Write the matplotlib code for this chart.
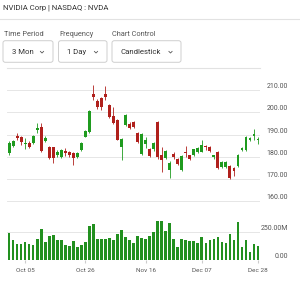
import matplotlib
matplotlib.use("Agg")
import matplotlib.pyplot as plt
import numpy as np
from matplotlib.patches import FancyBboxPatch
from matplotlib.lines import Line2D

plt.rcParams['font.family'] = ['Roboto', 'DejaVu Sans']

# daily candles, Sep 29 - Dec 26 (63 sessions)
opens = [181.7, 184.9, 189.4, 188.8, 185.9, 186.1, 186.1, 192.1, 193.5, 187.3,
         184.3, 184.3, 180.9, 180.0, 182.7, 182.3, 181.9, 179.8, 183.1, 189.1,
         191.0, 208.2, 205.0, 206.4, 208.4, 203.4, 198.4, 196.8, 184.6, 194.5,
         195.0, 195.5, 190.9, 181.2, 185.8, 183.3, 183.3, 195.9, 180.9, 179.4,
         174.2, 181.3, 178.9, 174.0, 182.0, 180.6, 180.9, 182.1, 182.3, 184.9,
         184.6, 180.1, 182.1, 175.2, 175.3, 175.9, 174.9, 176.0, 182.9, 183.2,
         187.7, 189.4, 187.4]
highs = [187.0, 187.8, 190.8, 189.5, 188.4, 187.0, 189.8, 195.1, 195.4, 189.5,
         185.0, 184.6, 183.0, 183.4, 183.8, 182.8, 182.2, 182.3, 186.5, 192.1,
         201.3, 212.4, 206.0, 206.9, 212.0, 203.8, 202.6, 197.2, 188.4, 199.4,
         195.6, 196.0, 191.4, 190.8, 189.0, 183.8, 186.6, 196.2, 184.6, 183.0,
         177.9, 182.2, 179.3, 181.0, 184.9, 181.0, 183.7, 184.4, 187.6, 185.3,
         185.0, 181.0, 182.5, 178.0, 178.0, 176.2, 175.6, 181.3, 184.4, 189.4,
         189.0, 192.4, 189.1]
lows = [181.0, 184.2, 187.6, 185.4, 183.4, 184.0, 185.8, 190.6, 182.0, 186.5,
        179.0, 177.1, 180.0, 179.6, 180.4, 179.8, 176.4, 179.5, 182.8, 188.8,
        190.6, 205.6, 201.5, 201.2, 205.8, 197.5, 194.6, 187.4, 178.6, 194.0,
        192.5, 193.0, 186.0, 180.6, 184.0, 179.8, 182.8, 179.0, 173.3, 179.0,
        170.5, 179.2, 176.4, 173.5, 179.9, 178.4, 180.5, 181.7, 182.0, 183.2,
        182.2, 178.8, 174.6, 174.8, 174.9, 170.2, 171.2, 175.6, 182.6, 182.8,
        187.3, 187.6, 185.6]
closes = [186.4, 187.2, 188.5, 186.7, 186.4, 184.6, 189.4, 193.2, 182.5, 188.4,
          179.6, 179.4, 182.0, 183.1, 181.9, 180.9, 179.4, 181.9, 186.1, 191.7,
          200.8, 207.0, 202.4, 202.3, 206.8, 198.1, 195.1, 187.8, 187.9, 199.0,
          193.0, 193.5, 186.5, 190.2, 187.4, 180.2, 186.1, 180.1, 178.6, 182.5,
          177.4, 179.8, 176.8, 180.5, 181.6, 178.8, 183.3, 184.0, 185.4, 184.2,
          182.6, 180.9, 175.0, 177.6, 177.6, 170.6, 173.4, 180.9, 183.8, 189.0,
          188.5, 190.4, 187.9]
volumes = [241, 177, 139, 139, 162, 141, 133, 186, 274, 156,
           209, 221, 180, 177, 133, 127, 168, 115, 133, 156,
           303, 316, 186, 186, 186, 194, 177, 227, 268, 203,
           177, 153, 212, 192, 186, 215, 250, 347, 347, 259,
           324, 186, 118, 186, 180, 168, 168, 148, 206, 148,
           177, 186, 200, 162, 148, 227, 180, 333, 118, 177,
           68, 139, 124]  # millions

tick_idx = [4, 19, 34, 48, 62]
tick_labels = ['Oct 05', 'Oct 26', 'Nov 16', 'Dec 07', 'Dec 28']
price_ticks = [160, 170, 180, 190, 200, 210]
vol_ticks = [0, 250]
vol_labels = ['0.00', '250.00M']

W, H = 300, 281
GREEN = '#1f9b1f'
RED = '#b0201c'
VOLC = '#22901f'
GRID = '#e6e6e6'


def fx(x):
    return x / W


def fy(y):
    return 1 - y / H


fig = plt.figure(figsize=(3.0, 2.81), dpi=100)
fig.patch.set_facecolor('white')

# header
fig.text(fx(3), fy(7.5), 'NVIDIA Corp | NASDAQ : NVDA', fontsize=5.6,
         color='#333333', va='center', ha='left')
fig.add_artist(Line2D([0, 1], [fy(19), fy(19)], color='#e2e2e2', lw=0.8))

# dropdown controls
controls = [('Time Period', '3 Mon', 3, 53, 42),
            ('Frequency', '1 Day', 58.5, 107, 96),
            ('Chart Control', 'Candlestick', 112, 181, 170.5)]
for label, value, x0, x1, chev in controls:
    fig.text(fx(x0 + 0.5), fy(34.3), label, fontsize=5.3, color='#555555',
             va='center', ha='left')
    box = FancyBboxPatch((fx(x0), fy(62.3)), fx(x1 - x0), (62.3 - 40.7) / H,
                         boxstyle='round,pad=0,rounding_size=0.008',
                         transform=fig.transFigure, facecolor='white',
                         edgecolor='#cfcfcf', lw=0.7)
    fig.add_artist(box)
    fig.text(fx(x0 + 8.5), fy(52.3), value, fontsize=5.6, color='#333333',
             va='center', ha='left')
    fig.add_artist(Line2D([fx(chev - 1.6), fx(chev), fx(chev + 1.6)],
                          [fy(51.4), fy(53.0), fy(51.4)], color='#555555', lw=0.6))

fig.add_artist(Line2D([fx(7.3), fx(260)], [fy(68.3), fy(68.3)], color='#e2e2e2', lw=0.8))

# price panel
x = np.arange(len(closes))
o = np.array(opens)
c = np.array(closes)
colors = [GREEN if cc >= oo else RED for oo, cc in zip(o, c)]

ax = fig.add_axes([fx(7.3), fy(203), fx(260) - fx(7.3), 125 / H])
ax.vlines(x, lows, highs, colors=colors, lw=0.6, zorder=2)
body = np.maximum(np.abs(c - o), 0.35)
ax.bar(x, body, bottom=np.minimum(o, c), width=0.7, color=colors, zorder=3)
ax.set_xlim(-0.45, 62.5)
ax.set_ylim(159.2, 215.5)
ax.set_yticks(price_ticks)
ax.grid(axis='y', color=GRID, lw=0.7, zorder=0)
ax.tick_params(left=False, bottom=False, labelleft=False, labelbottom=False)
for s in ax.spines.values():
    s.set_visible(False)
for p in price_ticks:
    ax.text(1.111, p, f'{p:.2f}', transform=ax.get_yaxis_transform(),
            fontsize=5, color='#555555', ha='right', va='bottom')

# volume panel
axv = fig.add_axes([fx(7.3), fy(260), fx(260) - fx(7.3), 57 / H])
axv.bar(x, volumes, width=0.65, color=VOLC, zorder=3)
axv.set_xlim(-0.45, 62.5)
axv.set_ylim(0, 503)
axv.set_yticks(vol_ticks)
axv.grid(axis='y', color=GRID, lw=0.7, zorder=0)
axv.tick_params(left=False, labelleft=False, length=2.5, color='#cccccc',
                labelsize=4.6, labelcolor='#555555', pad=3)
axv.set_xticks(tick_idx)
axv.set_xticklabels(tick_labels)
for s in axv.spines.values():
    s.set_visible(False)
for v, t in zip(vol_ticks, vol_labels):
    axv.text(1.111, v, t, transform=axv.get_yaxis_transform(),
             fontsize=5, color='#555555', ha='right', va='bottom')

fig.savefig('out.png', dpi=100)
